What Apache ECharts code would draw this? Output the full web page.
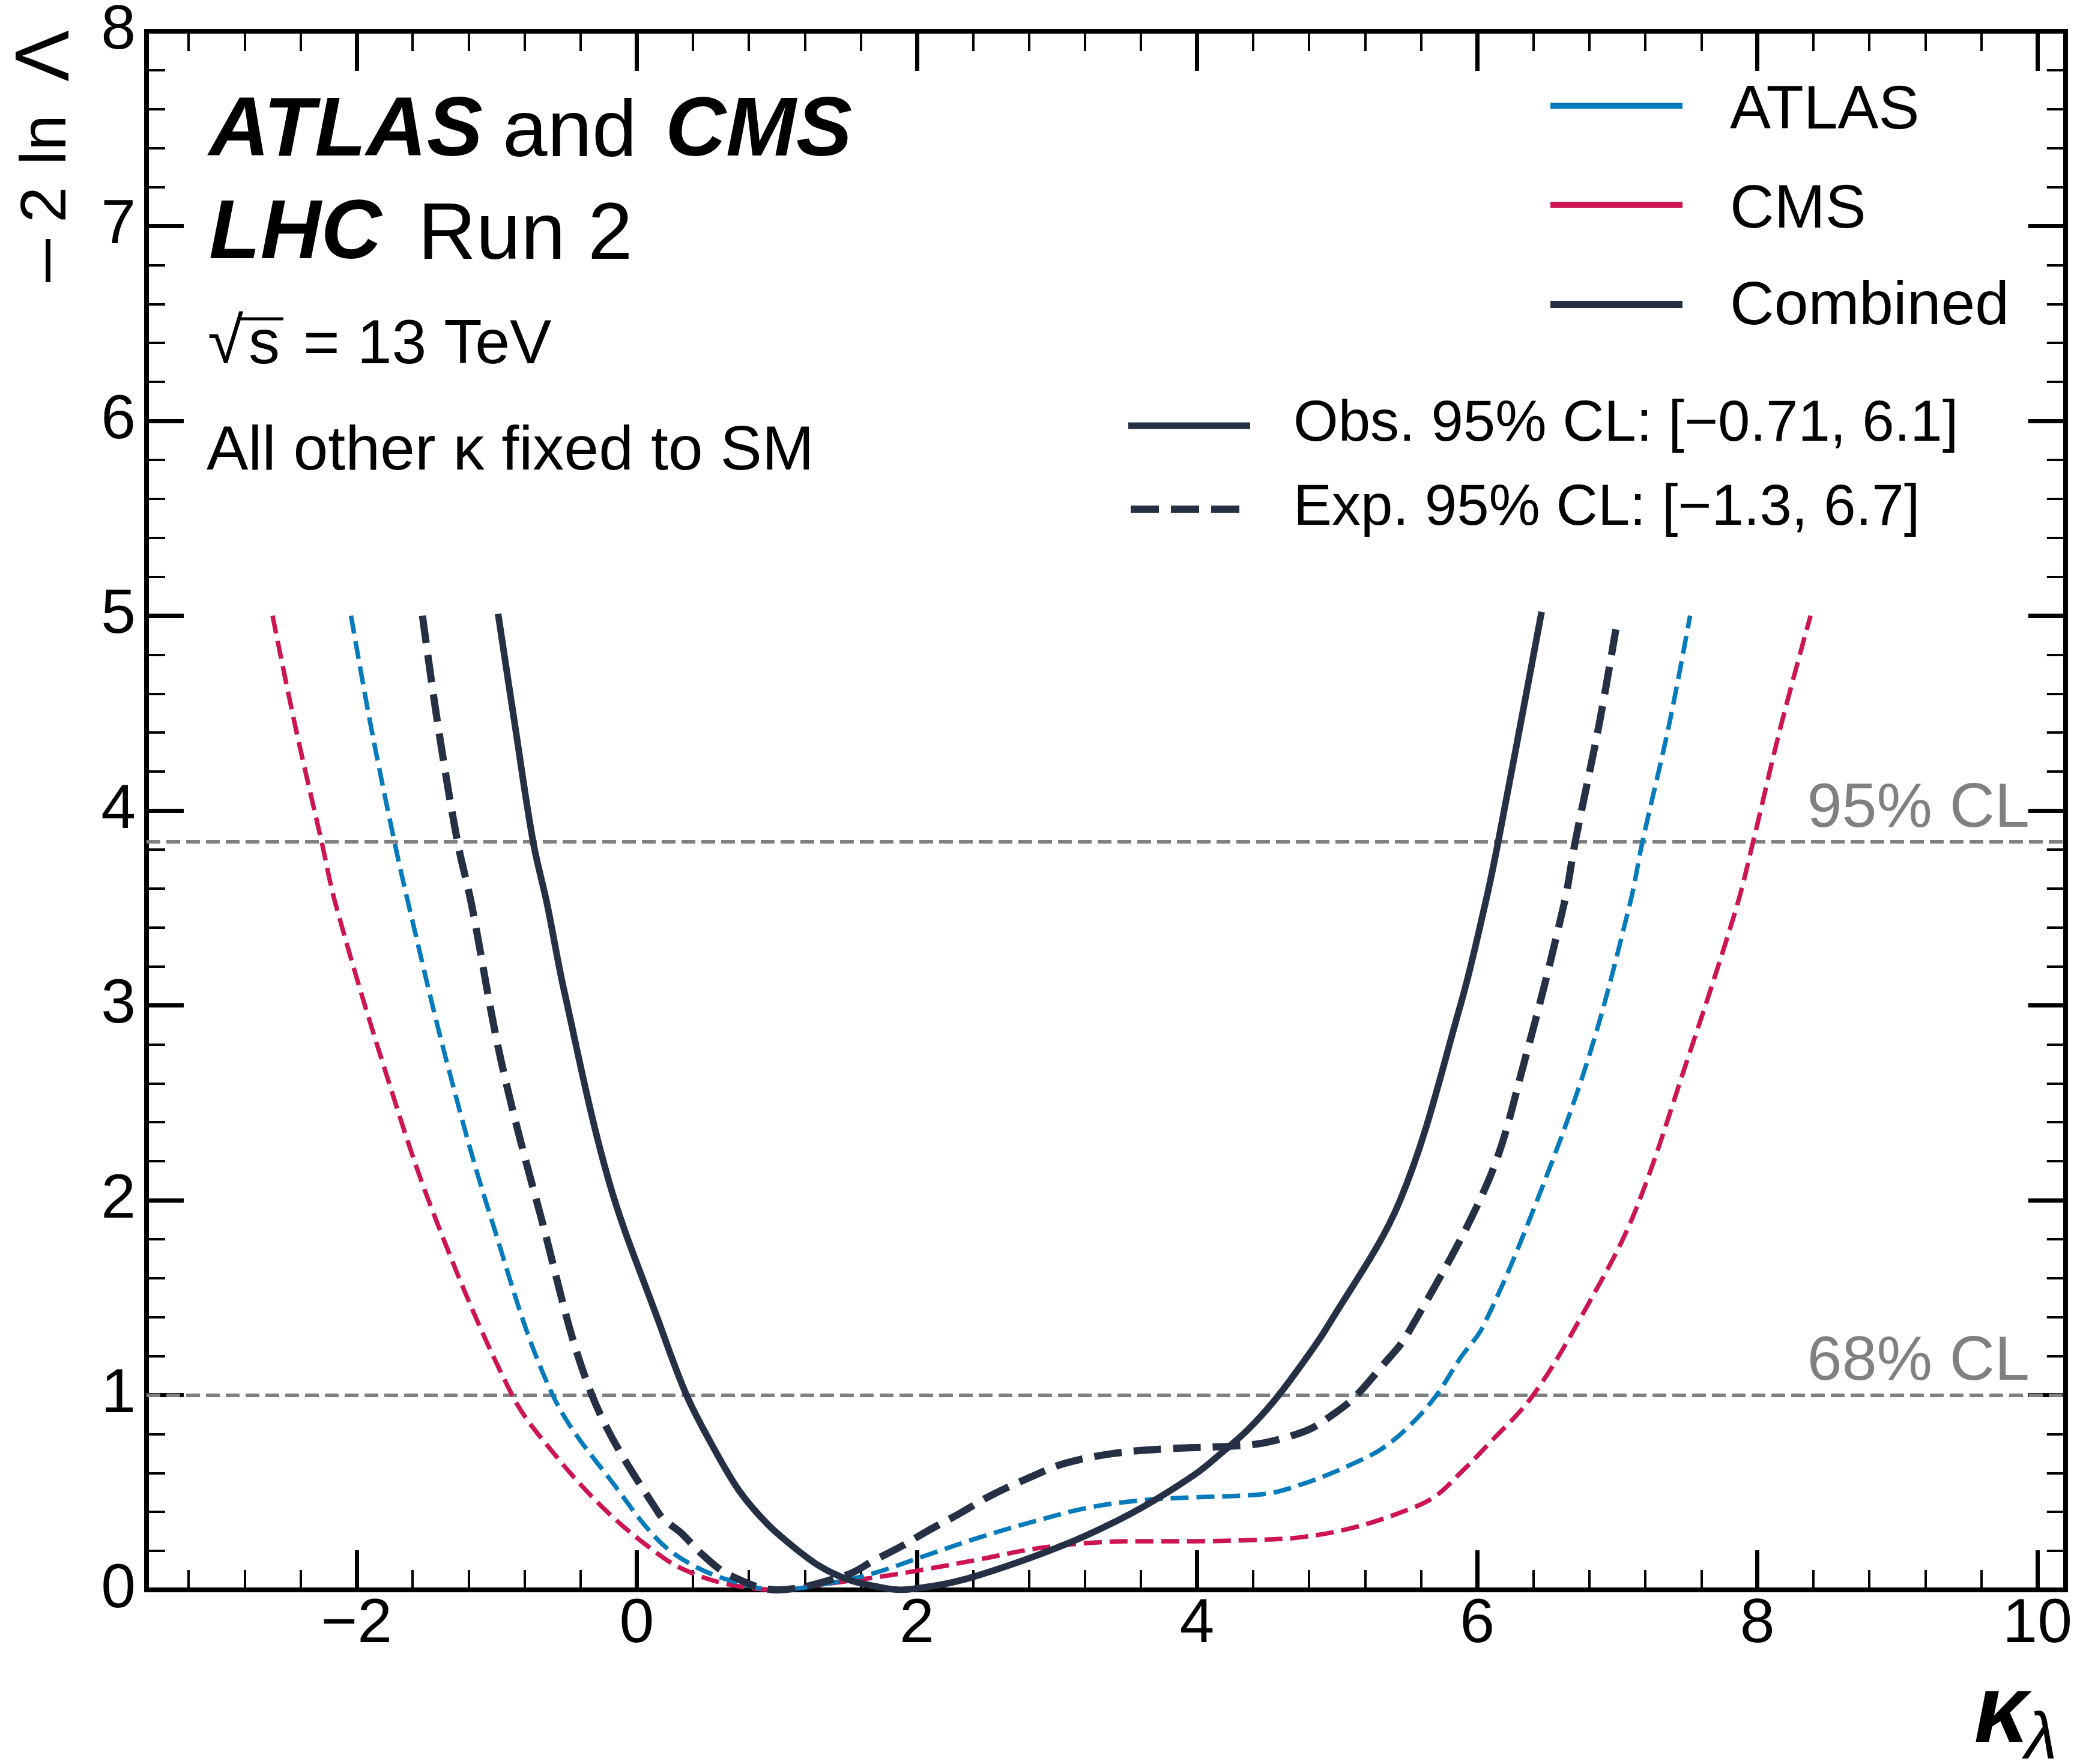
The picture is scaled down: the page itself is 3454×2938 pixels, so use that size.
<!DOCTYPE html>
<html><head><meta charset="utf-8">
<script src="https://cdn.jsdelivr.net/npm/echarts@6/dist/echarts.min.js"></script>
<style>html,body{margin:0;padding:0;background:#fff}#c{width:3454px;height:2938px}</style>
</head><body><div id="c"></div>
<script>
// kappa_lambda, -2 ln Lambda
const cmsExp = [
 [-2.60,5.00],[-2.44,4.44],[-2.25,3.84],[-2.15,3.52],[-1.82,2.72],[-1.45,1.93],[-0.89,1.00],[-0.58,0.69],
 [-0.21,0.40],[0.16,0.18],[0.35,0.10],[0.62,0.034],[1.00,0.00],[1.23,0.018],[1.50,0.045],[1.76,0.07],
 [2.07,0.107],[2.45,0.157],[2.83,0.21],[3.21,0.24],[3.60,0.25],[3.98,0.25],[4.36,0.255],[4.74,0.27],
 [5.12,0.32],[5.50,0.41],[5.70,0.48],[5.88,0.60],[6.07,0.74],[6.40,1.00],[6.78,1.45],[7.12,1.93],
 [7.50,2.72],[7.85,3.50],[7.97,3.84],[8.17,4.44],[8.38,5.00]
];
const atlasExp = [
 [-2.04,5.00],[-1.90,4.44],[-1.73,3.84],[-1.63,3.52],[-1.36,2.72],[-1.05,1.93],[-0.60,1.00],[-0.11,0.49],
 [0.16,0.25],[0.39,0.13],[0.66,0.05],[1.00,0.00],[1.38,0.035],[1.69,0.085],[2.07,0.178],[2.45,0.27],
 [2.83,0.35],[3.21,0.42],[3.60,0.46],[3.98,0.475],[4.36,0.485],[4.55,0.50],[4.74,0.54],[4.93,0.59],
 [5.12,0.65],[5.31,0.72],[5.50,0.83],[5.70,0.99],[5.88,1.19],[6.04,1.35],[6.39,1.93],[6.79,2.72],
 [7.09,3.52],[7.18,3.84],[7.37,4.44],[7.52,5.00]
];
const combExp = [
 [-1.53,5.00],[-1.42,4.44],[-1.28,3.84],[-1.18,3.52],[-0.97,2.72],[-0.69,1.93],[-0.32,1.00],[0.16,0.39],
 [0.32,0.29],[0.47,0.18],[0.66,0.077],[1.00,0.00],[1.50,0.077],[1.69,0.15],[1.88,0.22],[2.07,0.30],
 [2.30,0.39],[2.53,0.485],[2.83,0.585],[3.06,0.65],[3.40,0.70],[3.79,0.725],[4.17,0.735],[4.44,0.75],
 [4.67,0.79],[4.82,0.83],[4.97,0.90],[5.12,0.985],[5.31,1.14],[5.50,1.31],[6.08,2.10],[6.34,2.72],
 [6.62,3.52],[6.70,3.84],[6.87,4.44],[6.99,4.93]
];
const combObs = [
 [-0.99,5.01],[-0.87,4.44],[-0.74,3.84],[-0.64,3.52],[-0.52,3.08],[-0.20,2.10],[0.16,1.37],[0.355,1.00],
 [0.54,0.74],[0.73,0.51],[0.93,0.34],[1.12,0.22],[1.31,0.12],[1.50,0.055],[1.69,0.02],[1.88,0.00],
 [2.07,0.015],[2.26,0.04],[2.45,0.077],[2.83,0.17],[3.21,0.28],[3.60,0.42],[3.98,0.59],[4.17,0.70],
 [4.36,0.82],[4.55,0.97],[4.74,1.15],[4.93,1.35],[5.45,2.00],[5.88,3.00],[6.06,3.53],[6.15,3.84],[6.46,5.02]
];
const clLevels = [3.84, 1.0];
const clLabels = ['95% CL', '68% CL'];
const xRange = [-3.5, 10.2];
const yRange = [0, 8];
const legendNames = ['ATLAS', 'CMS', 'Combined'];
const clTexts = ['Obs. 95% CL: [\u22120.71, 6.1]', 'Exp. 95% CL: [\u22121.3, 6.7]'];

const FONT = "'Liberation Sans', Arial, Helvetica, sans-serif";
const C_ATLAS = '#057BBB', C_CMS = '#CC1552', C_COMB = '#263044', C_GRAY = '#808080';
const fmt = v => (v < 0 ? '\u2212' + Math.abs(v) : String(v));

function xAx(pos, lab) {
  return {
    type: 'value', position: pos, min: xRange[0], max: xRange[1], splitNumber: 7, minInterval: 2, maxInterval: 2,
    axisLine: { show: true, onZero: false, lineStyle: { color: '#000', width: 8, cap: 'square' } },
    axisTick: { show: true, inside: true, length: 66, lineStyle: { color: '#000', width: 7 } },
    minorTick: { show: true, splitNumber: 5, length: 33, lineStyle: { color: '#000', width: 4 } },
    splitLine: { show: false }, minorSplitLine: { show: false },
    axisLabel: { show: lab, interval: 0, showMinLabel: false, showMaxLabel: false, margin: 6, fontSize: 104,
      color: '#000', fontFamily: FONT, formatter: fmt }
  };
}
function yAx(pos, lab) {
  return {
    type: 'value', position: pos, min: yRange[0], max: yRange[1], interval: 1,
    axisLine: { show: true, onZero: false, lineStyle: { color: '#000', width: 8, cap: 'square' } },
    axisTick: { show: true, inside: true, length: 62, lineStyle: { color: '#000', width: 7 } },
    minorTick: { show: true, splitNumber: 5, length: 31, lineStyle: { color: '#000', width: 4 } },
    splitLine: { show: false }, minorSplitLine: { show: false },
    axisLabel: { show: lab, interval: 0, margin: 18, fontSize: 104, color: '#000', fontFamily: FONT, formatter: fmt }
  };
}
function curve(name, data, color, width, dash) {
  return { name, type: 'line', data, symbol: 'none', smooth: 0.35, z: 5,
    xAxisIndex: 0, yAxisIndex: 0, clip: true, silent: true,
    lineStyle: { color, width, type: dash } };
}
function txt(x, y, text, fs, opt) {
  opt = opt || {};
  const al = opt.align || 'left';
  return { type: 'text', x, y, rotation: opt.rot || 0, z: 100, silent: true,
    style: { text, fill: opt.color || '#000', fontSize: fs, fontFamily: FONT,
      fontWeight: opt.bold ? 'bold' : 'normal', fontStyle: opt.italic ? 'italic' : 'normal',
      align: al, verticalAlign: 'middle', textAlign: al, textVerticalAlign: 'middle' } };
}
function seg(x1, y1, x2, y2, color, w, dash) {
  return { type: 'line', z: 100, silent: true, shape: { x1, y1, x2, y2 },
    style: { stroke: color, lineWidth: w, lineDash: dash || null } };
}
const B = 0.3465; // baseline offset factor for middle alignment
const R90 = Math.PI / 2;

const chart = echarts.init(document.getElementById('c'), null, { renderer: 'canvas', width: 3454, height: 2938 });
chart.setOption({
  animation: false,
  backgroundColor: '#fff',
  grid: { left: 244, top: 38, width: 3204, height: 2610, containLabel: false },
  xAxis: [xAx('bottom', true), xAx('top', false)],
  yAxis: [yAx('left', true), yAx('right', false)],
  series: [
    { type: 'line', data: [], z: 2, silent: true, xAxisIndex: 0, yAxisIndex: 0,
      markLine: { silent: true, symbol: 'none', animation: false,
        lineStyle: { color: C_GRAY, width: 6, type: [23, 10] },
        label: { show: true, position: 'insideEndTop', formatter: '{b}', color: C_GRAY, fontSize: 104,
          fontFamily: FONT, distance: [60, 2] },
        emphasis: { disabled: true },
        data: clLevels.map((v, i) => ({ yAxis: v, name: clLabels[i] })) } },
    curve('CMS', cmsExp, C_CMS, 7.5, [30, 13]),
    curve('ATLAS', atlasExp, C_ATLAS, 7.5, [30, 13]),
    curve('Combined exp', combExp, C_COMB, 12, [46, 20]),
    curve('Combined obs', combObs, C_COMB, 11, 'solid')
  ],
  graphic: [
    txt(348, 269 - B * 140, 'ATLAS', 140, { bold: true, italic: true }),
    txt(837, 269 - B * 134, 'and', 134),
    txt(1108, 269 - B * 140, 'CMS', 140, { bold: true, italic: true }),
    txt(348, 440 - B * 140, 'LHC', 140, { bold: true, italic: true }),
    txt(696, 440 - B * 134, 'Run 2', 134),
    txt(346, 612 - B * 108, '\u221A', 108),
    txt(414, 612 - B * 104, 's', 104),
    seg(398, 531, 472, 531, '#000', 5),
    txt(505, 612 - B * 104, '= 13 TeV', 104),
    txt(344, 789 - B * 104, 'All other \u03BA fixed to SM', 104),
    seg(2582, 176, 2802, 176, C_ATLAS, 10),
    seg(2582, 341, 2802, 341, C_CMS, 10),
    seg(2582, 507, 2802, 507, C_COMB, 12),
    txt(2881, 186, legendNames[0], 102),
    txt(2881, 351, legendNames[1], 102),
    txt(2881, 512, legendNames[2], 102),
    seg(1879, 709, 2082, 709, C_COMB, 11),
    seg(1883, 848, 2064, 848, C_COMB, 12, [47, 20]),
    txt(2154, 708, clTexts[0], 96),
    txt(2154, 848, clTexts[1], 96),
    seg(80, 398, 80, 470, '#000', 8),
    txt(79, 341, '2', 108, { rot: R90, align: 'center' }),
    txt(79, 233, 'ln', 108, { rot: R90, align: 'center' }),
    txt(79, 93, '\u039B', 128, { rot: R90, align: 'center' }),
    txt(3378, 2912 - B * 160, '\u03BA', 160, { bold: true, italic: true, align: 'right' }),
    txt(3372, 2937 - B * 110, '\u03BB', 110, { italic: true })
  ]
});
</script>
</body></html>
